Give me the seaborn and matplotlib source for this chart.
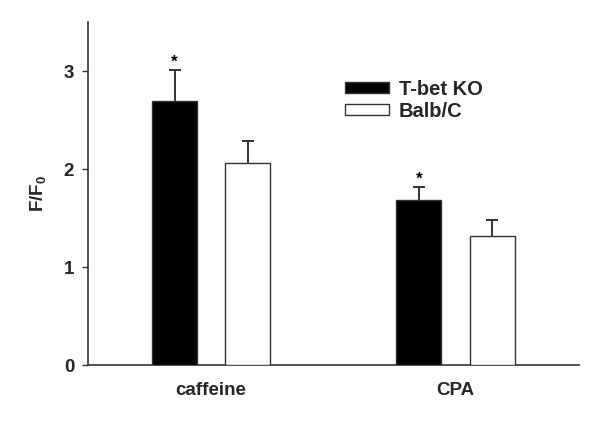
import matplotlib
matplotlib.use("Agg")
import matplotlib.pyplot as plt
import seaborn as sns
import pandas as pd
import numpy as np
from matplotlib.patches import Patch

conditions = ["caffeine", "caffeine", "CPA", "CPA"]
groups = ["T-bet KO", "Balb/C", "T-bet KO", "Balb/C"]
means = [2.69, 2.06, 1.685, 1.32]
errors = [0.32, 0.23, 0.135, 0.16]
significant = [True, False, True, False]
yticks = [0, 1, 2, 3]

sns.set_style("ticks")
plt.rcParams["font.family"] = ["Liberation Sans", "DejaVu Sans"]
plt.rcParams["mathtext.fontset"] = "custom"
plt.rcParams["mathtext.bf"] = "Liberation Sans:bold"
plt.rcParams["mathtext.rm"] = "Liberation Sans:bold"

df = pd.DataFrame({"condition": conditions, "group": groups, "value": means})

fig = plt.figure(figsize=(6, 4.23), dpi=100)
ax = fig.add_axes([0.1467, 0.137, 0.818, 0.811])

edge = "#333333"
sns.barplot(data=df, x="condition", y="value", hue="group",
            palette={"T-bet KO": "black", "Balb/C": "white"},
            width=0.60, gap=0.387, edgecolor=edge, linewidth=1.0,
            errorbar=None, legend=False, ax=ax, zorder=3)

for p in ax.patches:
    cx = p.get_x() + p.get_width() / 2
    h = p.get_height()
    idx = int(np.argmin([abs(h - m) for m in means]))
    ax.errorbar(cx, means[idx], yerr=errors[idx], fmt="none",
                ecolor=edge, elinewidth=1.4, capsize=4.2, capthick=1.4, zorder=2)
    if significant[idx]:
        ax.text(cx, means[idx] + errors[idx] + 0.03, "*", ha="center", va="baseline",
                fontsize=12.5, fontweight="bold", color="black")

ax.set_xlim(-0.504, 1.505)
ax.set_ylim(0, 3.5)
ax.set_yticks(yticks)
ax.set_yticklabels([str(t) for t in yticks])
ax.set_xlabel("")
ax.set_ylabel(r"$\mathbf{F/F_0}$", fontsize=13.5, labelpad=11)
for lab in ax.get_xticklabels() + ax.get_yticklabels():
    lab.set_fontweight("bold")
    lab.set_fontsize(13.5)
ax.tick_params(axis="x", length=0, pad=12)
ax.tick_params(axis="y", length=4, width=1, color=edge, direction="out", pad=6)
sns.despine(ax=ax)
for s in ["left", "bottom"]:
    ax.spines[s].set_color(edge)
    ax.spines[s].set_linewidth(1.2)

handles = [Patch(facecolor="black", edgecolor=edge, linewidth=1.0, label="T-bet KO"),
           Patch(facecolor="white", edgecolor=edge, linewidth=1.0, label="Balb/C")]
leg = ax.legend(handles=handles, loc="upper left", bbox_to_anchor=(0.486, 0.885),
                frameon=False, handlelength=2.2, handleheight=0.5,
                labelspacing=0.15, handletextpad=0.5,
                prop={"weight": "bold", "size": 14.5})

fig.savefig("out.png", dpi=100)
